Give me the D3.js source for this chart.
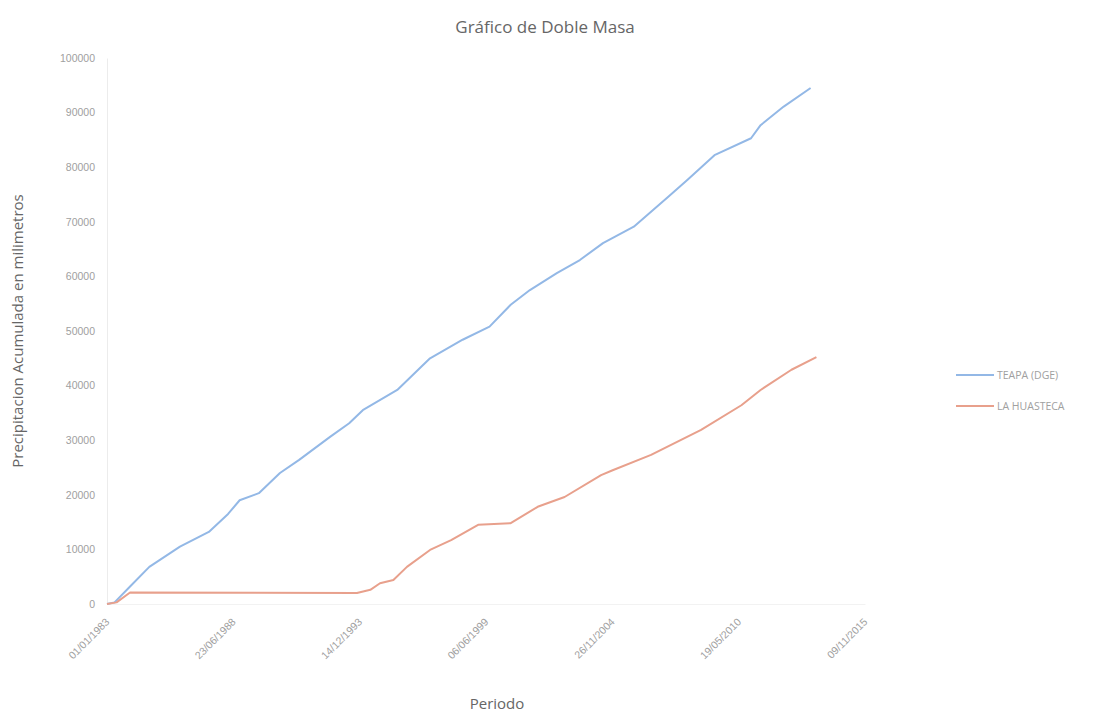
<!DOCTYPE html>
<html>
<head>
<meta charset="utf-8">
<script src="https://cdn.jsdelivr.net/npm/d3@7"></script>
<style>
  body { margin: 0; background: #fff; }
  svg { font-family: "Open Sans", "DejaVu Sans", sans-serif; }
</style>
</head>
<body>
<svg></svg>
<script>
var svg = d3.select("svg")
            .attr("width", 1095)
            .attr("height", 716);

// series names
var seriesNames = ["TEAPA (DGE)", "LA HUASTECA"];

// TEAPA (DGE) cumulative precipitation
var teapaDates = ["1983-01-01","1983-05-01","1984-01-01","1984-11-01","1986-03-01","1987-06-01",
                  "1988-04-01","1988-10-01","1989-08-01","1990-07-01","1991-05-01","1992-09-01","1993-07-01",
                  "1994-02-01","1995-08-01","1997-01-01","1998-06-01","1999-08-01","2000-07-01",
                  "2001-05-01","2002-07-01","2003-07-01","2004-07-01","2005-11-01","2007-05-01",
                  "2008-03-01","2009-05-01","2010-12-01","2011-05-01","2012-05-01","2013-07-01"];
var teapaValues = [0, 300, 3200, 6800, 10500, 13200,
                   16500, 19000, 20300, 24000, 26400, 30600, 33100,
                   35500, 39200, 45000, 48400, 50800, 54800,
                   57500, 60600, 63000, 66100, 69100, 74600,
                   77700, 82200, 85300, 87700, 91100, 94500];

// LA HUASTECA cumulative precipitation
var huastecaDates = ["1983-01-01","1983-06-01","1984-01-01","1993-11-01","1994-06-01","1994-11-01",
                     "1995-06-01","1996-01-01","1997-01-01","1997-12-01","1999-02-01","2000-07-01",
                     "2001-09-01","2002-11-01","2004-06-01","2004-12-01","2006-08-01","2008-10-01",
                     "2010-07-01","2011-05-01","2012-09-01","2013-10-01"];
var huastecaValues = [0, 300, 2100, 2000, 2600, 3800,
                      4400, 6800, 9900, 11700, 14500, 14800,
                      17800, 19600, 23600, 24500, 27300, 31900,
                      36400, 39200, 42900, 45200];

// x tick labels (every 2000 days, like the original)
var xTickLabels = ["01/01/1983","23/06/1988","14/12/1993","06/06/1999","26/11/2004","19/05/2010","09/11/2015"];
var yTicks = [0, 10000, 20000, 30000, 40000, 50000, 60000, 70000, 80000, 90000, 100000];

var colors = ["#93b8e6", "#e8a08c"];

var parseDate = d3.utcParse("%Y-%m-%d");
var parseTick = d3.utcParse("%d/%m/%Y");
var fmtTick = d3.utcFormat("%d/%m/%Y");

var margin = {top: 58, left: 107},
    width = 758,
    height = 546;

var g = svg.append("g").attr("transform", "translate(" + margin.left + "," + margin.top + ")");

var tickDates = xTickLabels.map(parseTick);

var x = d3.scaleUtc().domain([tickDates[0], tickDates[tickDates.length - 1]]).range([0, width]);
var y = d3.scaleLinear().domain([0, 100000]).range([height, 0]);

var series = [
  {name: seriesNames[0], values: teapaDates.map(function(d, i) { return {date: parseDate(d), v: teapaValues[i]}; })},
  {name: seriesNames[1], values: huastecaDates.map(function(d, i) { return {date: parseDate(d), v: huastecaValues[i]}; })}
];

// y axis
var yAxis = g.append("g")
    .call(d3.axisLeft(y).tickValues(yTicks).tickSize(0).tickPadding(12).tickFormat(d3.format("d")));
yAxis.select(".domain").attr("stroke", "#ececec");
yAxis.selectAll("text").attr("fill", "#a0a0a0").style("font-size", "10.5px");

// x axis
var xAxis = g.append("g")
    .attr("transform", "translate(0," + height + ")")
    .call(d3.axisBottom(x).tickValues(tickDates).tickSize(0).tickFormat(fmtTick));
xAxis.select(".domain").attr("stroke", "#f2f2f2");
xAxis.selectAll("text")
    .attr("fill", "#a0a0a0")
    .style("font-size", "10.5px")
    .attr("text-anchor", "end")
    .attr("dy", "0.35em")
    .attr("transform", "translate(0,16) rotate(-45)")
    .attr("y", 0)
    .attr("x", 0);

//line generator
var line = d3.line()
    .x(function(d) { return x(d.date); })
    .y(function(d) { return y(d.v); });

g.selectAll(".serie")
    .data(series)
    .enter()
    .append("path")
    .attr("class", "serie")
    .attr("fill", "none")
    .attr("stroke", function(d, i) { return colors[i]; })
    .attr("stroke-width", 2)
    .attr("stroke-linejoin", "round")
    .attr("d", function(d) { return line(d.values); });

// title
svg.append("text")
    .attr("x", 545)
    .attr("y", 33)
    .attr("text-anchor", "middle")
    .attr("fill", "#666")
    .style("font-size", "17px")
    .text("Gráfico de Doble Masa");

// axis titles
svg.append("text")
    .attr("transform", "translate(23,331) rotate(-90)")
    .attr("text-anchor", "middle")
    .attr("fill", "#666")
    .style("font-size", "15px")
    .text("Precipitacion Acumulada en milimetros");

svg.append("text")
    .attr("x", 497)
    .attr("y", 709)
    .attr("text-anchor", "middle")
    .attr("fill", "#666")
    .style("font-size", "15px")
    .text("Periodo");

// legend
var legend = svg.selectAll(".legend")
    .data(series)
    .enter()
    .append("g")
    .attr("class", "legend")
    .attr("transform", function(d, i) { return "translate(956," + (375 + i * 31) + ")"; });

legend.append("line")
    .attr("x1", 0).attr("x2", 38)
    .attr("stroke", function(d, i) { return colors[i]; })
    .attr("stroke-width", 2);

legend.append("text")
    .attr("x", 41)
    .attr("dy", "0.35em")
    .attr("fill", "#a0a0a0")
    .style("font-size", "10.5px")
    .text(function(d) { return d.name; });
</script>
</body>
</html>
